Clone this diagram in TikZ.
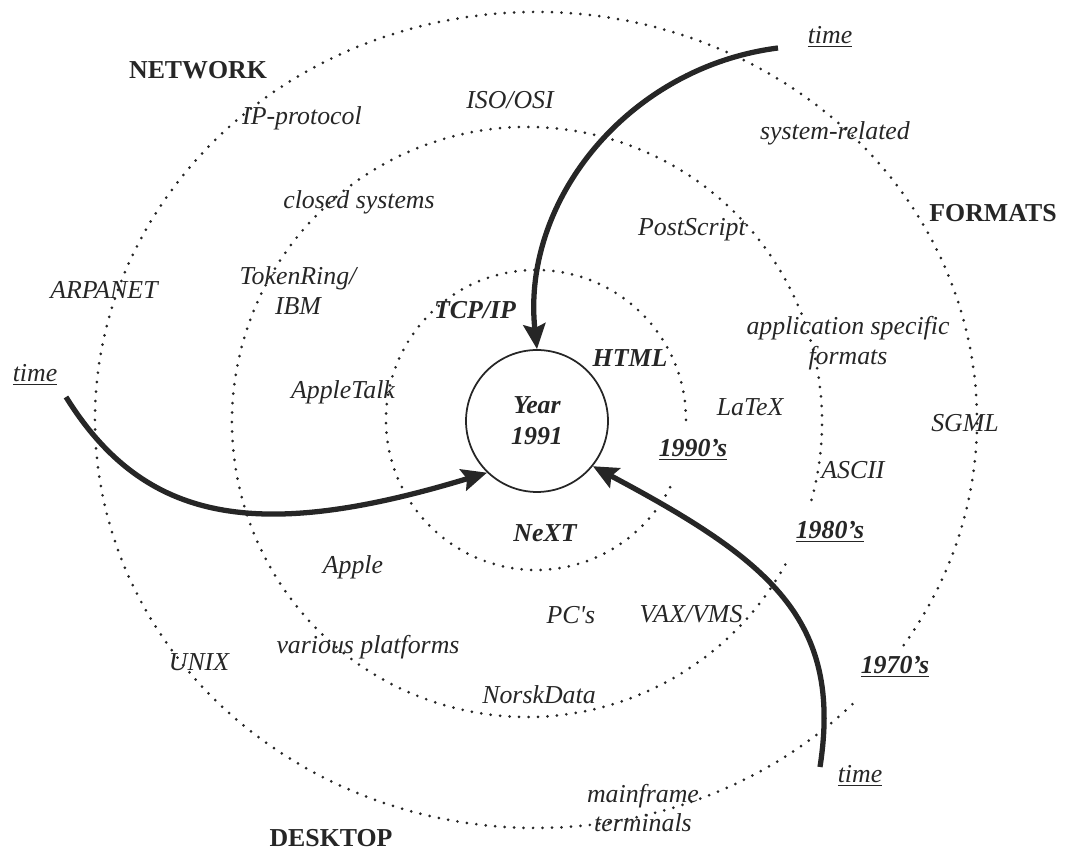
\documentclass[tikz,border=0pt]{standalone}
\usepackage{fontspec}
\setmainfont{Liberation Serif}
\usetikzlibrary{arrows.meta}

\colorlet{ink}{black!85}

\tikzset{
  ring/.style={line width=1.7pt, line cap=round, dash pattern=on 0pt off 5.4pt},
  timeline/.style={line width=3pt, -{Stealth[length=0.5cm,width=0.44cm,inset=0.08cm]}},
  topic/.style={font=\fontsize{14.7}{17}\selectfont\bfseries},
  item/.style={font=\fontsize{14.7}{17}\selectfont\itshape, align=center},
  now/.style={font=\fontsize{14.7}{17.5}\selectfont\bfseries\itshape, align=center}
}

\begin{document}
\begin{tikzpicture}[x=0.02cm, y=0.02cm, color=ink, text=ink]

  \useasboundingbox (0,0) rectangle (1086,854);

  % Three dotted decade rings, each open where its decade is written
  \foreach \cx/\cy/\rx/\ry/\from/\to in {536/434/150/150/0/334.5,
                                        527/432/295/295/-15.3/332.3,
                                        536/434/441/408/-33.5/316.2} {
    \draw[ring] (\cx,\cy) ++({\rx*cos(\from)},{\ry*sin(\from)})
      arc[start angle=\from, end angle=\to, x radius=\rx, y radius=\ry];
  }

  % The present in the middle
  \node[now, draw, circle, line width=1pt, minimum size=2.84cm] (year) at (537,433) {Year\\1991};

  % Areas
  \node[topic] (network) at (198,784) {NETWORK};
  \node[topic] (formats) at (993,641) {FORMATS};
  \node[topic] (desktop) at (331,16) {DESKTOP};

  % Decades
  \node[now] (d90) at (693,404) {\underline{1990's}};
  \node[now] (d80) at (830,322) {\underline{1980's}};
  \node[now] (d70) at (895,187) {\underline{1970's}};

  % Network side
  \node[item] (ipprot) at (302,736) {IP-protocol};
  \node[item] (arpanet) at (104,564) {ARPANET};
  \node[item] (isoosi) at (510,754) {ISO/OSI};
  \node[item] (closed) at (359,652) {closed systems};
  \node[item] (token) at (298,563) {TokenRing/\\IBM};
  \node[item] (appletalk) at (343,462) {AppleTalk};
  \node[now] (tcpip) at (475,544) {TCP/IP};

  % Formats side
  \node[item] (sysrel) at (835,721) {system-related};
  \node[item] (sgml) at (965,431) {SGML};
  \node[item] (postscript) at (692,624) {PostScript};
  \node[item] (appspec) at (848,511) {application specific\\formats};
  \node[item] (latex) at (750,447) {LaTeX};
  \node[item] (ascii) at (853,384) {ASCII};
  \node[now] (html) at (630,496) {HTML};

  % Desktop side
  \node[item] (unix) at (199,192) {UNIX};
  \node[item] (mainframe) at (643,46) {mainframe\\terminals};
  \node[item] (various) at (368,207) {various platforms};
  \node[item] (norsk) at (539,159) {NorskData};
  \node[item] (apple) at (353,287) {Apple};
  \node[item] (pcs) at (571,239) {PC\textquotesingle s};
  \node[item] (vax) at (691,240) {VAX/VMS};
  \node[now] (next) at (545,321) {NeXT};

  % Time runs inwards
  \node[item] (timefmt) at (830,817) {\underline{time}};
  \node[item] (timenet) at (35,479) {\underline{time}};
  \node[item] (timedsk) at (860,78) {\underline{time}};

  \coordinate (tfmt) at (778,806);
  \coordinate (tnet) at (66,457);
  \coordinate (tdsk) at (820,87);

  \draw[timeline] (tfmt) .. controls (629,787) and (521,654) .. (year.north);
  \draw[timeline] (tnet) .. controls (145,330) and (259,312) .. (year.226);
  \draw[timeline] (tdsk) .. controls (843,235) and (769,294) .. (year.-39);

\end{tikzpicture}
\end{document}
